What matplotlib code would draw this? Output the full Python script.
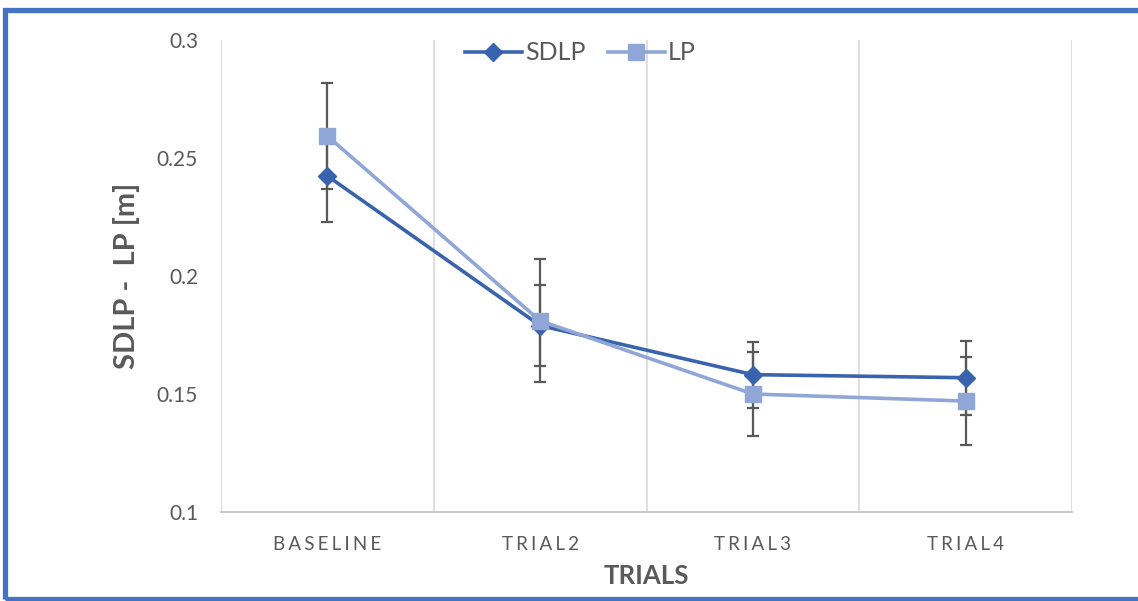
import matplotlib
matplotlib.use("Agg")
import matplotlib.pyplot as plt
from matplotlib.patches import Rectangle

categories = ["BASELINE", "TRIAL2", "TRIAL3", "TRIAL4"]
sdlp = [0.2424, 0.179, 0.1582, 0.1569]
sdlp_err = [0.0196, 0.017, 0.014, 0.0157]
lp = [0.2593, 0.181, 0.150, 0.147]
lp_err = [0.0224, 0.026, 0.018, 0.0186]
y_ticks = [0.1, 0.15, 0.2, 0.25, 0.3]
y_tick_labels = ["0.1", "0.15", "0.2", "0.25", "0.3"]

plt.rcParams['font.family'] = ['Lato', 'DejaVu Sans']

W, H = 1138, 601
fig = plt.figure(figsize=(W / 100, H / 100), dpi=100)
ax = fig.add_axes([221 / W, 1 - 512 / H, (1072 - 221) / W, (512 - 40) / H])

c_sdlp = "#3A63AD"
c_lp = "#8FA6D6"
c_err = "#595959"
c_text = "#595959"

x = list(range(len(categories)))

ax.errorbar(x, sdlp, yerr=sdlp_err, fmt="none", ecolor=c_err, elinewidth=1.6,
            capsize=4.5, capthick=1.6, zorder=2)
ax.errorbar(x, lp, yerr=lp_err, fmt="none", ecolor=c_err, elinewidth=1.6,
            capsize=4.5, capthick=1.6, zorder=2)
ax.plot(x, sdlp, color=c_sdlp, lw=2.6, marker="D", markersize=9.5,
        label="SDLP", zorder=3)
ax.plot(x, lp, color=c_lp, lw=2.6, marker="s", markersize=11,
        label="LP", zorder=4)

ax.set_xlim(-0.5, len(categories) - 0.5)
ax.set_ylim(0.1, 0.3)
ax.set_xticks(x)
# letter-spaced display of the category names (narrow spaces between letters)
ax.set_xticklabels(["\u2006".join(c) for c in categories])
ax.set_yticks(y_ticks)
ax.set_yticklabels(y_tick_labels)

for xv in [-0.5 + i for i in range(len(categories) + 1)]:
    ax.axvline(xv, color="#D9D9D9", lw=1.2, zorder=0)

for s in ["top", "right", "left"]:
    ax.spines[s].set_visible(False)
ax.spines["bottom"].set_color("#BFBFBF")
ax.spines["bottom"].set_linewidth(1.2)

ax.tick_params(axis="both", length=0, colors=c_text)
ax.tick_params(axis="y", pad=16.5, labelsize=15)
ax.tick_params(axis="x", pad=17, labelsize=13.5)

ax.set_xlabel("TRIALS", fontsize=18.5, fontweight="bold", color=c_text, labelpad=8)
ax.set_ylabel("SDLP -  LP [m]", fontsize=21, fontweight="bold", color=c_text, labelpad=12)

leg = ax.legend(loc="center", bbox_to_anchor=(0.422, 1 - 13 / 472), ncol=2, frameon=False,
                fontsize=18, handlelength=2.3, columnspacing=0.9, handletextpad=0.1,
                borderpad=0, borderaxespad=0)
for t in leg.get_texts():
    t.set_color(c_text)

fig.patches.append(Rectangle((5 / W, 2 / H), 1.2, 1 - 12 / H, transform=fig.transFigure,
                             fill=False, edgecolor="#4472C4", lw=3.8, clip_on=False))

fig.savefig("out.png", dpi=100)
